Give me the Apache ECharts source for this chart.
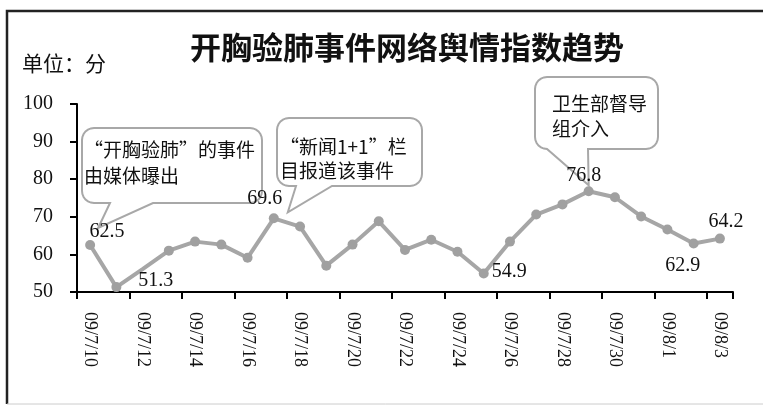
<!DOCTYPE html>
<html><head><meta charset="utf-8">
<script src="https://cdn.jsdelivr.net/npm/echarts@6/dist/echarts.min.js"></script>
<style>html,body{margin:0;padding:0;background:#fff}#c{width:763px;height:407px}</style>
</head><body><div id="c"></div>
<script>
var categories = ['09/7/10','09/7/11','09/7/12','09/7/13','09/7/14','09/7/15','09/7/16','09/7/17','09/7/18','09/7/19','09/7/20','09/7/21','09/7/22','09/7/23','09/7/24','09/7/25','09/7/26','09/7/27','09/7/28','09/7/29','09/7/30','09/7/31','09/8/1','09/8/2','09/8/3'];
var indexValues = [62.5,51.3,56.1,61.0,63.4,62.6,59.1,69.6,67.4,57.0,62.6,68.8,61.2,63.9,60.7,54.9,63.4,70.6,73.3,76.8,75.2,70.1,66.6,62.9,64.2];
var yTicks = [50,60,70,80,90,100];
var labeledIdx = [0,1,7,15,19,23,24];
var callouts = [
  {idx:0, lines:['“开胸验肺”的事件','由媒体曝出']},
  {idx:7, lines:['“新闻1+1”栏','目报道该事件']},
  {idx:19, lines:['卫生部督导','组介入']}
];

var labelPos = {0:['top',[17,7]],1:['right',[12,-6]],7:['top',[-9,0]],15:['right',[-2,-2]],19:['top',[-5,5]],23:['bottom',[-11,2]],24:['top',[6,3]]};
var seriesData = indexValues.map(function(v,i){
  var d = {value:v};
  if (labeledIdx.indexOf(i) >= 0) {
    d.label = {show:true, position:labelPos[i][0], offset:labelPos[i][1], formatter:String(v)};
  }
  if (i === 2) { d.symbolSize = 0; }
  return d;
});

var chart = echarts.init(document.getElementById('c'), null, {renderer:'canvas'});
var serif = '"Liberation Serif","Times New Roman",serif';
var cjk = '"Noto Sans CJK SC","Noto Sans",sans-serif';
chart.setOption({
  backgroundColor:'#fff',
  animation:false,
  title:{text:'开胸验肺事件网络舆情指数趋势', left:402, top:27, textAlign:'center',
    textStyle:{fontFamily:cjk, fontSize:31, fontWeight:'bold', color:'#111'}},
  grid:{left:77, right:30, top:104, bottom:115},
  xAxis:{type:'category', data:categories, boundaryGap:true,
    axisLine:{lineStyle:{color:'#000', width:2}},
    axisTick:{show:true, interval:1, length:7, lineStyle:{color:'#000', width:2}},
    axisLabel:{interval:1, rotate:-90, margin:20, fontFamily:serif, fontSize:18, color:'#111'}},
  yAxis:{type:'value', min:yTicks[0], max:yTicks[yTicks.length-1], interval:10,
    axisLine:{show:true, lineStyle:{color:'#000', width:2}},
    axisTick:{show:true, length:7, lineStyle:{color:'#000', width:2}},
    splitLine:{show:false},
    axisLabel:{margin:24, fontFamily:serif, fontSize:20, color:'#111'}},
  series:[{type:'line', z:5, data:seriesData, symbol:'circle', symbolSize:10,
    lineStyle:{color:'#a6a6a6', width:4},
    itemStyle:{color:'#a0a0a0'},
    label:{show:false, fontFamily:serif, fontSize:20, color:'#111'}}]
});

function arcPts(cx,cy,r,a0,a1,out){
  for (var s=0; s<=6; s++){
    var a = a0 + (a1-a0)*s/6;
    out.push([cx + r*Math.cos(a), cy + r*Math.sin(a)]);
  }
}
function bubble(x1,y1,x2,y2,r,tail){
  var p = [], PI = Math.PI;
  arcPts(x1+r, y1+r, r, PI, 1.5*PI, p);
  arcPts(x2-r, y1+r, r, 1.5*PI, 2*PI, p);
  arcPts(x2-r, y2-r, r, 0, 0.5*PI, p);
  p.push([tail[1], y2]); p.push([tail[2], tail[3]]); p.push([tail[0], y2]);
  arcPts(x1+r, y2-r, r, 0.5*PI, PI, p);
  return p;
}
var boxes = [
  {x1:82,y1:128,x2:262,y2:203, base:[110,153], tipOff:[8,-17], tx:84, ty:[150,176]},
  {x1:277,y1:118,x2:422,y2:186, base:[296,332], tipOff:[14,-6], tx:280, ty:[147,171]},
  {x1:535,y1:77,x2:658,y2:149, base:[547,588], tipOff:[0,-6], tx:552, ty:[104,129]}
];
var g = [];
g.push({type:'polyline', shape:{points:[[7,404],[7,11],[770,11]]}, style:{stroke:'#222', lineWidth:2.5, fill:null}, z:100});
g.push({type:'line', shape:{x1:7,y1:404,x2:770,y2:404}, style:{stroke:'#ccc', lineWidth:1}, z:100});
g.push({type:'text', x:22, y:63, style:{text:'单位：分', font:'21px '+cjk, fill:'#111', verticalAlign:'middle'}, z:100});
callouts.forEach(function(c,k){
  var b = boxes[k];
  var pt = chart.convertToPixel({seriesIndex:0}, [c.idx, indexValues[c.idx]]);
  var tip = [pt[0]+b.tipOff[0], pt[1]+b.tipOff[1]];
  g.push({type:'polygon', shape:{points: bubble(b.x1,b.y1,b.x2,b.y2,12,[b.base[0],b.base[1],tip[0],tip[1]])},
    style:{fill:'#fff', stroke:'#a8a8a8', lineWidth:2}, z:1});
  c.lines.forEach(function(t,j){
    g.push({type:'text', x:b.tx, y:b.ty[j], style:{text:t, font:'19px '+cjk, fill:'#111', verticalAlign:'middle', align:'left'}, z:2});
  });
});
chart.setOption({graphic:g});
</script>
</body></html>
